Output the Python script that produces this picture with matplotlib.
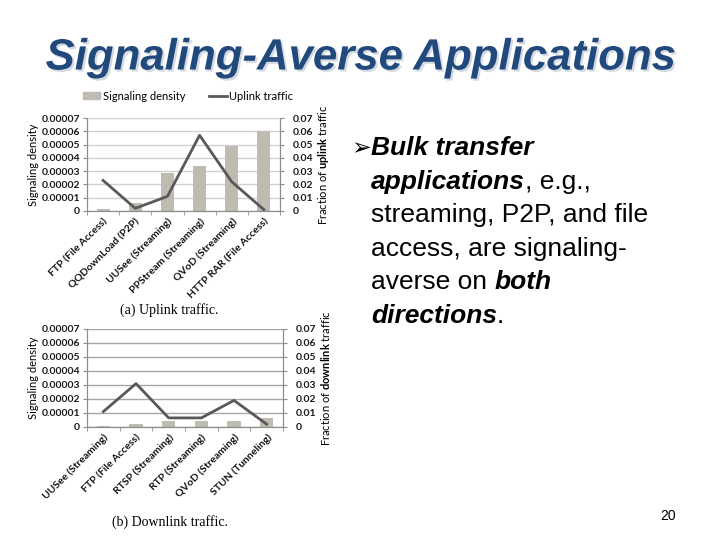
import matplotlib
matplotlib.use('Agg')
import matplotlib.pyplot as plt
import matplotlib.patheffects as pe
from matplotlib.transforms import IdentityTransform
from matplotlib.patches import Patch
from matplotlib.lines import Line2D
import numpy as np

# data
up_apps = ['FTP (File Access)', 'QQDownLoad (P2P)', 'UUSee (Streaming)',
           'PPStream (Streaming)', 'QVoD (Streaming)', 'HTTP RAR (File Access)']
up_density = [0.0000015, 0.000006, 0.0000285, 0.0000335, 0.000049, 0.00006]
up_fraction = [0.023, 0.002, 0.011, 0.057, 0.022, 0.001]

down_apps = ['UUSee (Streaming)', 'FTP (File Access)', 'RTSP (Streaming)',
             'RTP (Streaming)', 'QVoD (Streaming)', 'STUN (Tunneling)']
down_density = [0.000001, 0.000002, 0.000004, 0.000004, 0.000004, 0.0000065]
down_fraction = [0.011, 0.031, 0.0065, 0.0065, 0.019, 0.002]

left_ticks = [0, 0.00001, 0.00002, 0.00003, 0.00004, 0.00005, 0.00006, 0.00007]
left_labels = ['0', '0.00001', '0.00002', '0.00003', '0.00004', '0.00005', '0.00006', '0.00007']
right_ticks = [0, 0.01, 0.02, 0.03, 0.04, 0.05, 0.06, 0.07]
right_labels = ['0', '0.01', '0.02', '0.03', '0.04', '0.05', '0.06', '0.07']

W, H = 720, 540
fig = plt.figure(figsize=(7.2, 5.4), dpi=100)
fig.patch.set_facecolor('white')

BAR = '#bfbbb3'
LINE = '#595959'
AXC = '#8c8c8c'
FONT = 'Lato'

plt.rcParams['mathtext.fontset'] = 'custom'
plt.rcParams['mathtext.bf'] = 'Lato:bold'
plt.rcParams['mathtext.rm'] = 'Lato'


def px_axes(l, t, r, b):
    return fig.add_axes([l / W, 1 - b / H, (r - l) / W, (b - t) / H])


def draw_chart(ax, apps, dens, frac, rlabel_parts, gridc):
    x = np.arange(len(apps))
    ax.bar(x, dens, width=0.4, color=BAR, zorder=2)
    ax.set_xlim(-0.5, len(apps) - 0.5)
    ax.set_ylim(0, 0.00007)
    ax.set_yticks(left_ticks)
    ax.set_yticklabels(left_labels, fontsize=7.5, fontweight='bold', family=FONT, color='#1a1a1a')
    ax.grid(axis='y', color=gridc, lw=1, zorder=0)
    ax.set_axisbelow(True)
    ax.set_xticks(x)
    ax.set_xticklabels(apps, rotation=45, ha='right', rotation_mode='anchor',
                       fontsize=7.5, fontweight='bold', family=FONT, color='#111111')
    ax.set_xticks(np.arange(len(apps) + 1) - 0.5, minor=True)
    ax.tick_params(axis='x', which='major', length=0, pad=4)
    ax.tick_params(axis='x', which='minor', length=3, color=AXC)
    ax.tick_params(axis='y', length=3, color=AXC, pad=2)
    ax.spines['top'].set_visible(False)
    for s in ['left', 'right', 'bottom']:
        ax.spines[s].set_color(AXC)
    ax.set_ylabel('Signaling density', fontsize=8, family=FONT, labelpad=2)

    ax2 = ax.twinx()
    ax2.plot(x, frac, color=LINE, lw=2, zorder=3)
    ax2.set_ylim(0, 0.07)
    ax2.set_yticks(right_ticks)
    ax2.set_yticklabels(right_labels, fontsize=7.5, fontweight='bold', family=FONT, color='#1a1a1a')
    ax2.tick_params(axis='y', length=3, color=AXC, pad=6)
    ax2.spines['top'].set_visible(False)
    for s in ['left', 'right', 'bottom']:
        ax2.spines[s].set_color(AXC)
    a, b, c = rlabel_parts
    ax2.set_ylabel(a + r'$\mathbf{' + b + '}$' + c, fontsize=8, family=FONT, labelpad=2)
    return ax2


ax_up = px_axes(87, 118, 280, 211)
draw_chart(ax_up, up_apps, up_density, up_fraction, ('Fraction of ', 'uplink', ' traffic'), '#d0d0d0')

ax_dn = px_axes(87, 329, 283, 427)
draw_chart(ax_dn, down_apps, down_density, down_fraction, ('Fraction of ', 'downlink', ' traffic'), '#a8a8a8')

# legend for uplink chart
fig.legend([Patch(color=BAR), Line2D([0], [0], color=LINE, lw=2)],
           ['Signaling density', 'Uplink traffic'],
           loc='center', bbox_to_anchor=(188 / W, 1 - 96 / H), ncol=2, frameon=False,
           prop={'family': FONT, 'size': 8}, handlelength=1.6, handleheight=0.6,
           columnspacing=2.2, handletextpad=0.2)

# captions
fig.text(169 / W, 1 - 310 / H, '(a) Uplink traffic.', family='Liberation Serif', fontsize=10,
         ha='center', va='center')
fig.text(170 / W, 1 - 522 / H, '(b) Downlink traffic.', family='Liberation Serif', fontsize=10,
         ha='center', va='center')

# title
fig.text(361 / W, 1 - 58 / H, 'Signaling-Averse Applications', family='Liberation Sans',
         fontsize=31.5, fontweight='bold', fontstyle='italic', color='#21497c',
         ha='center', va='center',
         path_effects=[pe.withSimplePatchShadow(offset=(1.5, -1.5), shadow_rgbFace='#c3cad6', alpha=0.7)])

# bullet text
fig.text(351, H - 148, '\u27a2', transform=IdentityTransform(), family=['DejaVu Sans'],
         fontsize=17, va='center')

BI = dict(fontweight='bold', fontstyle='italic')
RG = dict()
lines = [
    [('Bulk transfer', BI)],
    [('applications', BI), (', e.g.,', RG)],
    [('streaming, P2P, and file', RG)],
    [('access, are signaling-', RG)],
    [('averse on ', RG), ('both', BI)],
    [('directions', BI), ('.', RG)],
]
fig.canvas.draw()
renderer = fig.canvas.get_renderer()
for i, parts in enumerate(lines):
    xx = 371
    yy = H - (148 + i * 33.6)
    for s, st in parts:
        t = fig.text(xx, yy, s, transform=IdentityTransform(), family='Liberation Sans',
                     fontsize=19, va='center', ha='left', **st)
        xx = t.get_window_extent(renderer).x1

fig.text(668, H - 516, '20', transform=IdentityTransform(), family='Liberation Sans',
         fontsize=10, ha='center', va='center')

fig.savefig('out.png', dpi=100)
